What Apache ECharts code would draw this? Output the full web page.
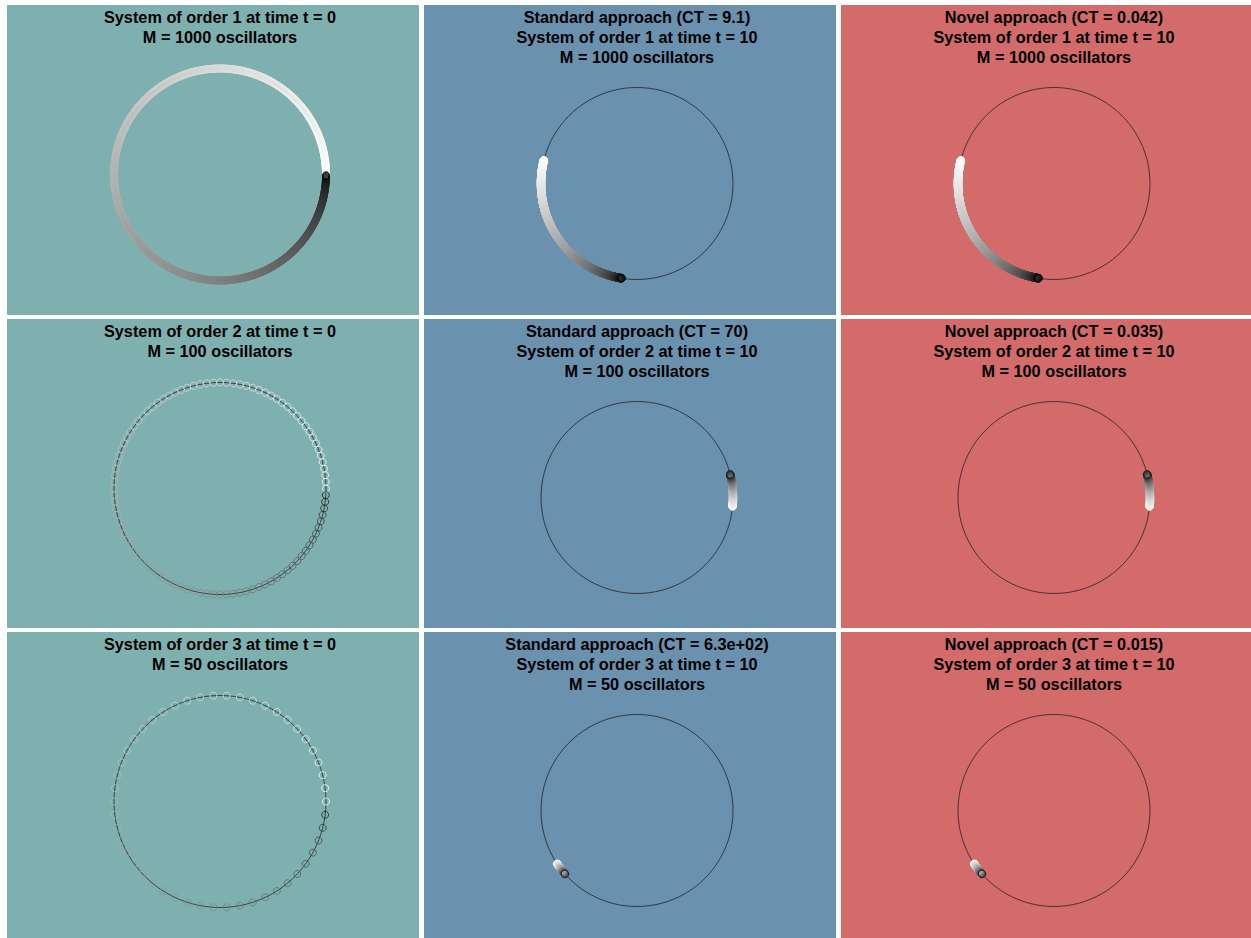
<!DOCTYPE html>
<html>
<head>
<meta charset="utf-8">
<title>Oscillator systems</title>
<style>
  html, body { margin: 0; padding: 0; background: #ffffff; }
  #chart { width: 1251px; height: 938px; }
</style>
<script src="https://cdn.jsdelivr.net/npm/echarts@6/dist/echarts.min.js"></script>
</head>
<body>
<div id="chart"></div>
<script>
// Three systems (orders 1..3), shown at t = 0 and after integration to t = 10
const systemOrders = [1, 2, 3];
const oscillatorCounts = [1000, 100, 50];
const startTime = 0;
const endTime = 10;
// computation times reported for each approach
const standardCT = ['9.1', '70', '6.3e+02'];
const novelCT = ['0.042', '0.035', '0.015'];
// phase (degrees, counter-clockwise from the +x direction) of the first
// and of the last oscillator at t = 10
const firstPhaseAtEnd = [166, -5.4, 213.7];
const lastPhaseAtEnd = [260.8, 14, 221.5];

// panel geometry and colours
const panelColors = ['#7fb0b0', '#6a91ae', '#d36b6b'];
const colLeft = [7, 424, 841];
const colRight = [419, 836, 1251];
const rowTop = [5, 319, 632];
const rowBottom = [315, 628, 938];
const FONT = "'Liberation Sans', Arial, Helvetica, sans-serif";

function titleLines(row, col) {
  const order = systemOrders[row];
  const M = oscillatorCounts[row];
  const lines = [];
  if (col === 1) lines.push('Standard approach (CT = ' + standardCT[row] + ')');
  if (col === 2) lines.push('Novel approach (CT = ' + novelCT[row] + ')');
  lines.push('System of order ' + order + ' at time t = ' + (col === 0 ? startTime : endTime));
  lines.push('M = ' + M + ' oscillators');
  return lines;
}

// oscillator k: phase on the unit circle, grey level fading from white (k = 0) to black (k = M - 1)
function oscillatorData(row, atEnd) {
  const M = oscillatorCounts[row];
  const out = [];
  for (let k = 0; k < M; k++) {
    let phase = atEnd
      ? firstPhaseAtEnd[row] + (lastPhaseAtEnd[row] - firstPhaseAtEnd[row]) * k / (M - 1)
      : 360 * k / M;
    phase = ((phase % 360) + 360) % 360;
    const g = Math.round(255 * Math.sqrt(1 - k / M));
    out.push({ value: [1, phase], itemStyle: { borderColor: 'rgb(' + g + ',' + g + ',' + g + ')' } });
  }
  return out;
}

const graphic = [];
const title = [];
const polar = [];
const angleAxis = [];
const radiusAxis = [];
const series = [];

for (let row = 0; row < 3; row++) {
  for (let col = 0; col < 3; col++) {
    const idx = row * 3 + col;
    const lines = titleLines(row, col);
    const cx = colLeft[col] + 213;
    const cy = rowTop[row] + (lines.length === 2 ? 169.5 : 178.5);
    const R = lines.length === 2 ? 106 : 96;

    graphic.push({
      type: 'rect', z: -10, silent: true,
      shape: { x: colLeft[col], y: rowTop[row], width: colRight[col] - colLeft[col], height: rowBottom[row] - rowTop[row] },
      style: { fill: panelColors[col] }
    });

    title.push({
      text: lines.join('\n'),
      left: cx, top: rowTop[row] + 2,
      textAlign: 'center',
      padding: 0,
      textStyle: { fontFamily: FONT, fontSize: 16.3, fontWeight: 'bold', color: '#000000', lineHeight: 20 }
    });

    polar.push({ center: [cx, cy], radius: R });
    angleAxis.push({
      polarIndex: idx, type: 'value', min: 0, max: 360, startAngle: 0, clockwise: false,
      axisLine: { show: true, lineStyle: { color: '#151515', width: 0.7 } },
      axisTick: { show: false }, axisLabel: { show: false },
      splitLine: { show: false }, splitArea: { show: false }
    });
    radiusAxis.push({
      polarIndex: idx, type: 'value', min: 0, max: 1,
      axisLine: { show: false }, axisTick: { show: false }, axisLabel: { show: false },
      splitLine: { show: false }, splitArea: { show: false }
    });
    series.push({
      type: 'scatter', coordinateSystem: 'polar', polarIndex: idx,
      symbol: 'circle', symbolSize: col === 0 ? 7 : 7.5,
      silent: true, animation: false,
      itemStyle: { color: 'rgba(0,0,0,0)', borderWidth: 1 },
      emphasis: { disabled: true },
      data: oscillatorData(row, col !== 0)
    });
  }
}

const chart = echarts.init(document.getElementById('chart'), null, { renderer: 'svg' });
chart.setOption({
  backgroundColor: '#ffffff',
  animation: false,
  graphic: graphic,
  title: title,
  polar: polar,
  angleAxis: angleAxis,
  radiusAxis: radiusAxis,
  series: series
});
</script>
</body>
</html>
